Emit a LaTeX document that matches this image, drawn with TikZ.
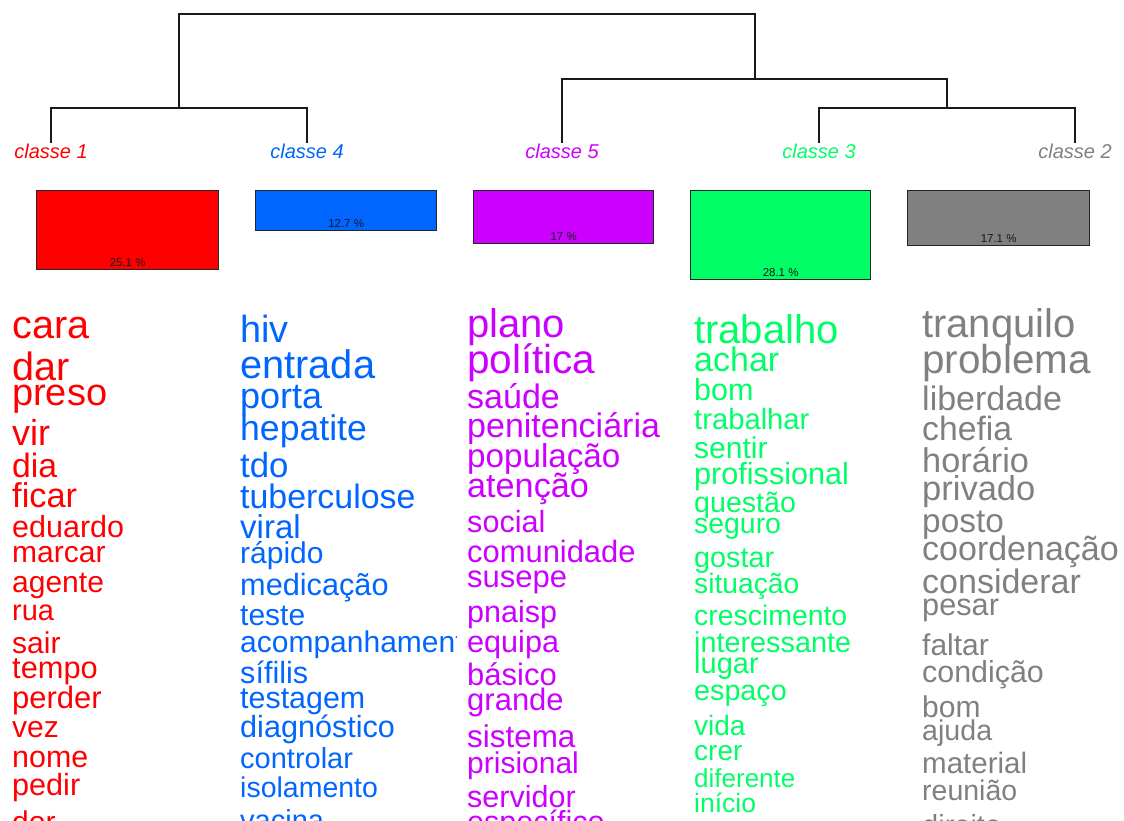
\documentclass[tikz,border=0pt]{standalone}
\usepackage{fontspec}
\setmainfont{Liberation Sans}
\definecolor{cred}{HTML}{FF0000}
\definecolor{cblue}{HTML}{0066FF}
\definecolor{cpurp}{HTML}{CC00FF}
\definecolor{cgreen}{HTML}{00FF66}
\definecolor{cgray}{HTML}{808080}

\begin{document}
\begin{tikzpicture}[x=1pt, y=-1pt,
  tree/.style={line width=1.7pt, black!90},
  lab/.style={font=\fontsize{20}{20}\selectfont\itshape, inner sep=1.5pt, anchor=base},
  bar/.style={draw=black!85, line width=1.3pt, anchor=north west, inner sep=0pt},
  pct/.style={font=\fontsize{11.5}{11.5}\selectfont, text=black!90, inner sep=0pt, anchor=base, yshift=4pt},
  word/.style={inner sep=0pt, anchor=base west}]
\useasboundingbox (0,0) rectangle (1124,821);
\clip (0,0) rectangle (1124,821);

% class labels
\node[lab, text=cred] (c1) at (51,159) {classe 1};
\node[lab, text=cblue] (c4) at (307,159) {classe 4};
\node[lab, text=cpurp] (c5) at (562,159) {classe 5};
\node[lab, text=cgreen] (c3) at (819,159) {classe 3};
\node[lab, text=cgray] (c2) at (1075,159) {classe 2};

% dendrogram
\coordinate (m14) at (179,108);
\coordinate (m32) at (947,108);
\coordinate (m532) at (755,79);
\coordinate (top) at (467,14);
\draw[tree] (c1.north) |- (m14) -| (c4.north);
\draw[tree] (c3.north) |- (m32) -| (c2.north);
\draw[tree] (c5.north) |- (m532) -| (m32);
\draw[tree] (m14) |- (top) -| (m532);

% bars
\node[bar, fill=cred, minimum width=182pt, minimum height=79pt] (b1) at (36,190) {};
\node[bar, fill=cblue, minimum width=181pt, minimum height=40pt] (b4) at (255,190) {};
\node[bar, fill=cpurp, minimum width=180pt, minimum height=53pt] (b5) at (473,190) {};
\node[bar, fill=cgreen, minimum width=180pt, minimum height=89pt] (b3) at (690,190) {};
\node[bar, fill=cgray, minimum width=182pt, minimum height=55pt] (b2) at (907,190) {};
\node[pct] (p1) at (b1.south) {25.1 \%};
\node[pct] (p4) at (b4.south) {12.7 \%};
\node[pct] (p5) at (b5.south) {17 \%};
\node[pct] (p3) at (b3.south) {28.1 \%};
\node[pct] (p2) at (b2.south) {17.1 \%};

% words
\foreach \w/\s/\y [count=\i] in {cara/39.6/338, dar/39.5/380, preso/38/405, vir/36/445,
    dia/33.7/477, ficar/34.4/507, eduardo/30.5/537, marcar/30/562, agente/30/592,
    rua/29/620, sair/30/653, tempo/30.8/678, perder/31/708, vez/30/737, nome/30.4/767,
    pedir/30.6/795, dor/30/832}
  \node[word, text=cred, font=\fontsize{\s}{\s}\selectfont] (r\i) at (12,\y) {\w};

\begin{scope}
\clip (228,290) rectangle (456,821);
\foreach \w/\s/\y [count=\i] in {hiv/37.8/342, entrada/39.8/378, porta/36/408,
    hepatite/35.6/440, tdo/34.8/477, tuberculose/33.9/508, viral/33/538, rápido/30/563,
    medicação/30.7/595, teste/30/625, acompanhamento/30/652, sífilis/30.6/683,
    testagem/30.4/708, diagnóstico/30.6/737, controlar/29/768, isolamento/28.5/797,
    vacina/29/830}
  \node[word, text=cblue, font=\fontsize{\s}{\s}\selectfont] (u\i) at (240,\y) {\w};
\end{scope}

\foreach \w/\s/\y [count=\i] in {plano/40/337, política/40.5/373, saúde/34/408,
    penitenciária/34/437, população/33.2/467, atenção/34.2/497, social/30.6/532,
    comunidade/30.9/562, susepe/31/587, pnaisp/30.5/622, equipa/30.6/652,
    básico/31/685, grande/31/710, sistema/31.4/747, prisional/30/773,
    servidor/30.5/807, específico/30.5/832}
  \node[word, text=cpurp, font=\fontsize{\s}{\s}\selectfont] (v\i) at (467,\y) {\w};

\foreach \w/\s/\y [count=\i] in {trabalho/40/343, achar/34/371, bom/30.5/400,
    trabalhar/29.2/429, sentir/30/458, profissional/30.6/484, questão/28.6/512,
    seguro/28.4/533, gostar/28.8/567, situação/28.2/593, crescimento/28.4/625,
    interessante/28.8/652, lugar/29/673, espaço/28.7/700, vida/28/735, crer/28/760,
    diferente/26/787, início/26.5/812}
  \node[word, text=cgreen, font=\fontsize{\s}{\s}\selectfont] (g\i) at (694,\y) {\w};

\foreach \w/\s/\y [count=\i] in {tranquilo/40/337, problema/40.4/373, liberdade/34/410,
    chefia/33.7/440, horário/34.3/472, privado/34.5/500, posto/33.4/532,
    coordenação/34/560, considerar/34/593, pesar/30.7/615, faltar/30/655,
    condição/30.4/682, bom/30/717, ajuda/28.6/740, material/29.5/773,
    reunião/28.5/800, direito/29/835}
  \node[word, text=cgray, font=\fontsize{\s}{\s}\selectfont] (k\i) at (922,\y) {\w};
\end{tikzpicture}
\end{document}
